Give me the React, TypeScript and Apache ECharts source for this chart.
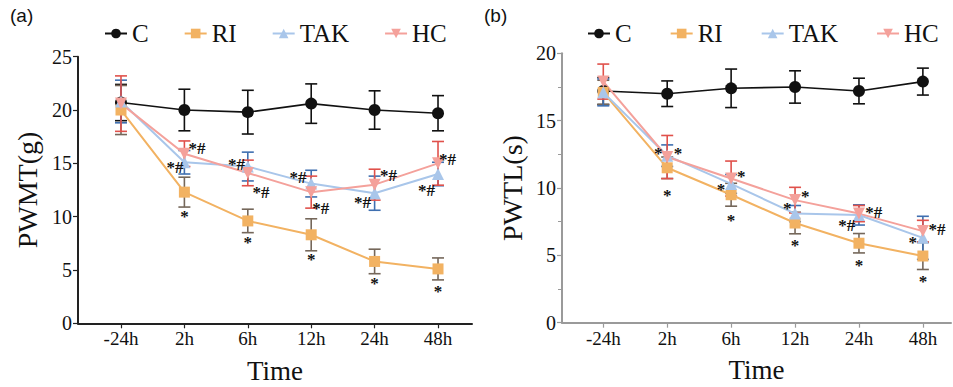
import React, { useEffect, useRef } from "react";
import * as echarts from "echarts";

const categories = ["-24h", "2h", "6h", "12h", "24h", "48h"];
const seriesNames = ["C", "RI", "TAK", "HC"];

// Panel (a) PWMT(g): means and error (SD)
const pwmtC = [20.7, 20.0, 19.8, 20.6, 20.0, 19.7];
const pwmtCErr = [1.7, 1.95, 2.05, 1.85, 1.8, 1.65];
const pwmtRI = [20.0, 12.3, 9.6, 8.3, 5.8, 5.1];
const pwmtRIErr = [2.3, 1.4, 1.1, 1.5, 1.15, 1.03];
const pwmtTAK = [20.8, 15.1, 14.7, 13.1, 12.2, 14.0];
const pwmtTAKErr = [2.0, 1.1, 1.35, 1.25, 1.6, 1.1];
const pwmtHC = [20.6, 15.9, 14.1, 12.3, 13.0, 15.0];
const pwmtHCErr = [2.6, 1.2, 1.2, 1.5, 1.45, 2.05];

// Panel (b) PWTL(s)
const pwtlC = [17.2, 17.0, 17.4, 17.5, 17.2, 17.9];
const pwtlCErr = [1.0, 0.95, 1.43, 1.2, 0.95, 1.0];
const pwtlRI = [17.1, 11.5, 9.5, 7.4, 5.9, 4.95];
const pwtlRIErr = [0.9, 0.8, 0.85, 0.8, 0.72, 1.0];
const pwtlTAK = [17.1, 12.4, 10.3, 8.1, 8.0, 6.3];
const pwtlTAKErr = [1.0, 0.8, 0.7, 0.6, 0.75, 1.6];
const pwtlHC = [17.9, 12.3, 10.7, 9.1, 8.1, 6.8];
const pwtlHCErr = [1.3, 1.6, 1.3, 0.95, 0.6, 0.8];

// Significance marks: [category index, shift in category units, y value, text]
const pwmtMarks: [number, number, number, string][] = [
  [1, -0.15, 14.9, "*#"], [1, 0.2, 16.7, "*#"], [1, 0, 10.3, "*"],
  [2, -0.18, 15.2, "*#"], [2, 0.21, 12.55, "*#"], [2, 0, 7.9, "*"],
  [3, -0.21, 13.97, "*#"], [3, 0.15, 11.0, "*#"], [3, 0, 6.3, "*"],
  [4, 0.22, 14.1, "*#"], [4, -0.19, 11.6, "*#"], [4, 0, 4.0, "*"],
  [5, 0.15, 15.6, "*#"], [5, -0.18, 12.7, "*#"], [5, 0, 3.3, "*"],
];
const pwtlMarks: [number, number, number, string][] = [
  [1, -0.14, 12.77, "*"], [1, 0.17, 12.82, "*"], [1, 0, 9.65, "*"],
  [2, -0.16, 10.1, "*"], [2, 0.16, 11.09, "*"], [2, 0, 7.8, "*"],
  [3, -0.12, 8.69, "*"], [3, 0.16, 9.6, "*"], [3, 0, 5.97, "*"],
  [4, 0.23, 8.42, "*#"], [4, -0.19, 7.43, "*#"], [4, 0, 4.45, "*"],
  [5, 0.22, 7.13, "*#"], [5, -0.16, 6.14, "*"], [5, 0, 3.3, "*"],
];

const lineColors = ["#111111", "#f2b262", "#a9c6ea", "#f4a19b"];
const errColors = ["#111111", "#75675a", "#3f6fb0", "#e0514b"];
const symbols = ["circle", "rect", "triangle", "triangle"];
const rotations = [0, 0, 0, 180];
const symbolSizes = [12, 11, 12, 12];

const SERIF = "Liberation Serif";

export default function App() {
  const ref = useRef<HTMLDivElement>(null);
  useEffect(() => {
    document.body.style.margin = "0";
    if (!ref.current) return;
    const chart = echarts.init(ref.current, undefined, { renderer: "svg" });

    const panels = [
      { means: [pwmtC, pwmtRI, pwmtTAK, pwmtHC], errs: [pwmtCErr, pwmtRIErr, pwmtTAKErr, pwmtHCErr], marks: pwmtMarks },
      { means: [pwtlC, pwtlRI, pwtlTAK, pwtlHC], errs: [pwtlCErr, pwtlRIErr, pwtlTAKErr, pwtlHCErr], marks: pwtlMarks },
    ];

    const series: any[] = [];
    panels.forEach((p, pi) => {
      p.means.forEach((m, si) => {
        const color = errColors[si];
        series.push({
          type: "custom",
          name: seriesNames[si] + "-err" + pi,
          xAxisIndex: pi,
          yAxisIndex: pi,
          z: 2,
          encode: { x: 0, y: 1 },
          data: m.map((v, i) => [i, v, p.errs[si][i]]),
          renderItem: (params: any, api: any) => {
            const x = api.value(0);
            const y = api.value(1);
            const e = api.value(2);
            const top = api.coord([x, y + e]);
            const bot = api.coord([x, y - e]);
            const hw = 6;
            const st = { stroke: color, lineWidth: 1.6 };
            return {
              type: "group",
              children: [
                { type: "line", shape: { x1: top[0], y1: top[1], x2: bot[0], y2: bot[1] }, style: st },
                { type: "line", shape: { x1: top[0] - hw, y1: top[1], x2: top[0] + hw, y2: top[1] }, style: st },
                { type: "line", shape: { x1: bot[0] - hw, y1: bot[1], x2: bot[0] + hw, y2: bot[1] }, style: st },
              ],
            };
          },
        });
      });
      p.means.forEach((m, si) => {
        series.push({
          type: "line",
          name: seriesNames[si],
          xAxisIndex: pi,
          yAxisIndex: pi,
          z: 3,
          data: m.map((v, i) => [i, v]),
          symbol: symbols[si],
          symbolSize: symbolSizes[si],
          symbolRotate: rotations[si],
          showAllSymbol: true,
          lineStyle: { color: lineColors[si], width: si === 0 ? 1.6 : 2 },
          itemStyle: { color: lineColors[si] },
        });
      });
      series.push({
        type: "custom",
        name: "marks" + pi,
        xAxisIndex: pi,
        yAxisIndex: pi,
        z: 5,
        encode: { x: 0, y: 1 },
        data: p.marks.map((mk) => [mk[0] + mk[1], mk[2], mk[3]]),
        renderItem: (params: any, api: any) => {
          const pt = api.coord([api.value(0), api.value(1)]);
          const txt = p.marks[params.dataIndex][3];
          return {
            type: "text",
            x: pt[0],
            y: pt[1] + 3,
            style: {
              text: txt,
              fontFamily: SERIF,
              fontSize: 17,
              fontWeight: "bold",
              fill: "#111",
              align: "center",
              verticalAlign: "middle",
            },
          };
        },
      });
    });

    const tickRich = { t: { fontFamily: SERIF, fontSize: 19, color: "#111" } };

    const xAxisCommon = (min: number, max: number, color: string, lw: number) => ({
      type: "value",
      min,
      max,
      splitLine: { show: false },
      axisLine: { show: true, onZero: false, lineStyle: { color, width: lw } },
      axisTick: { show: true, customValues: [0, 1, 2, 3, 4, 5], length: 5, lineStyle: { color, width: 1.2 } },
      axisLabel: {
        customValues: [0, 1, 2, 3, 4, 5],
        formatter: (v: number) => "{t|" + (categories[Math.round(v)] ?? "") + "}",
        rich: tickRich,
        fontFamily: SERIF,
        fontSize: 19,
        color: "#111",
        margin: 6,
      },
      name: "Time",
      nameLocation: "middle",
      nameGap: 34,
      nameTextStyle: { fontFamily: SERIF, fontSize: 27, color: "#111" },
    });

    const yLabel = {
      formatter: (v: number) => "{t|" + v + "}",
      rich: { t: { fontFamily: SERIF, fontSize: 20, color: "#111" } },
      fontFamily: SERIF,
      fontSize: 20,
      color: "#111",
      margin: 6,
    };

    const option: any = {
      animation: false,
      backgroundColor: "#ffffff",
      textStyle: { fontFamily: SERIF },
      graphic: [
        { type: "text", left: 10, top: 6, style: { text: "(a)", fontFamily: "Liberation Sans", fontSize: 19, fill: "#111" } },
        { type: "text", left: 484, top: 6, style: { text: "(b)", fontFamily: "Liberation Sans", fontSize: 19, fill: "#111" } },
      ],
      legend: [
        {
          data: seriesNames,
          left: 99,
          top: 16,
          itemWidth: 22,
          itemHeight: 12,
          itemGap: 35,
          textStyle: { fontFamily: SERIF, fontSize: 25, color: "#111" },
        },
        {
          data: seriesNames,
          left: 582,
          top: 16,
          itemWidth: 22,
          itemHeight: 12,
          itemGap: 38,
          textStyle: { fontFamily: SERIF, fontSize: 25, color: "#111" },
        },
      ],
      grid: [
        { left: 78, top: 56.7, width: 394, height: 266.6, containLabel: false, outerBoundsMode: "none" },
        { left: 562, top: 53.3, width: 389, height: 269.4, containLabel: false, outerBoundsMode: "none" },
      ],
      xAxis: [
        { gridIndex: 0, ...xAxisCommon(-0.678, 5.536, "#222", 2) },
        { gridIndex: 1, ...xAxisCommon(-0.646, 5.44, "#9a9a9a", 2) },
      ],
      yAxis: [
        {
          gridIndex: 0,
          type: "value",
          min: 0,
          max: 25,
          interval: 5,
          splitLine: { show: false },
          axisLine: { show: true, onZero: false, lineStyle: { color: "#222", width: 2 } },
          axisTick: { show: true, length: 5, lineStyle: { color: "#222", width: 1.2 } },
          axisLabel: yLabel,
          name: "PWMT(g)",
          nameLocation: "middle",
          nameGap: 37,
          nameTextStyle: { fontFamily: SERIF, fontSize: 28, color: "#111" },
        },
        {
          gridIndex: 1,
          type: "value",
          min: 0,
          max: 20,
          interval: 5,
          splitLine: { show: false },
          axisLine: { show: true, onZero: false, lineStyle: { color: "#9a9a9a", width: 2 } },
          axisTick: { show: true, length: 5, lineStyle: { color: "#9a9a9a", width: 1.2 } },
          minorTick: { show: true, splitNumber: 2, length: 4, lineStyle: { color: "#9a9a9a", width: 1 } },
          axisLabel: yLabel,
          name: "PWTL(s)",
          nameLocation: "middle",
          nameGap: 36,
          nameTextStyle: { fontFamily: SERIF, fontSize: 28, color: "#111" },
        },
      ],
      series,
    };
    chart.setOption(option);
    return () => chart.dispose();
  }, []);
  return <div ref={ref} style={{ width: 953, height: 387 }} />;
}
